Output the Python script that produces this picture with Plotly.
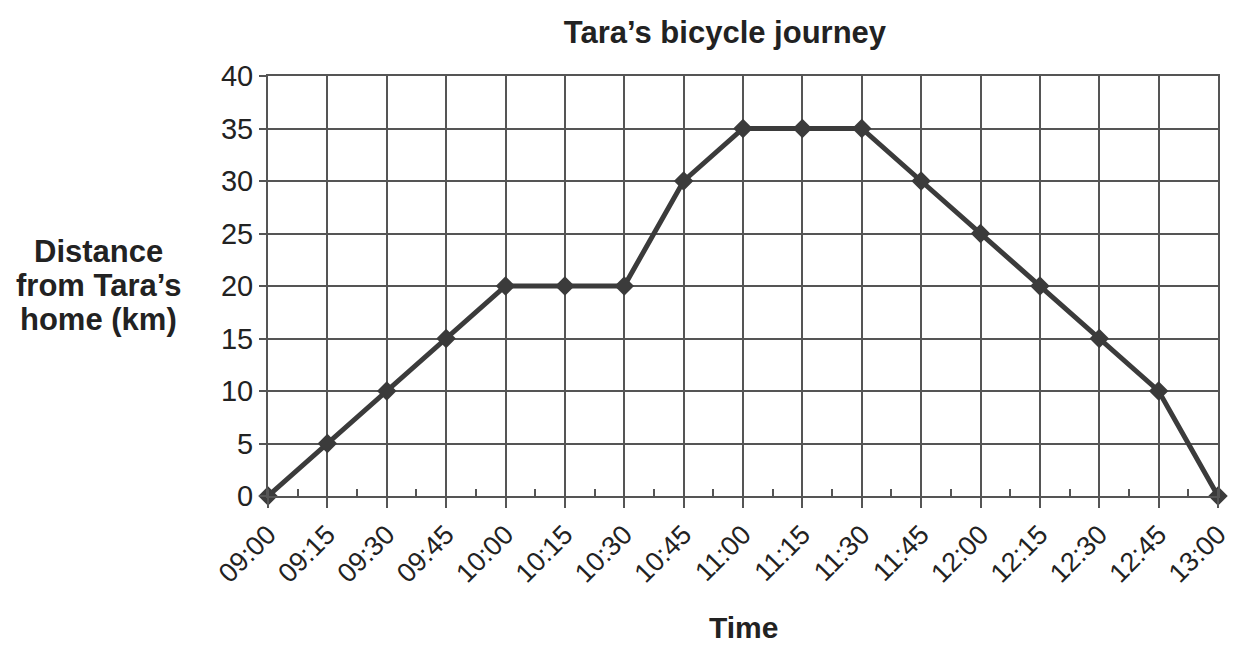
import plotly.graph_objects as go

times = ["09:00", "09:15", "09:30", "09:45", "10:00", "10:15", "10:30", "10:45",
         "11:00", "11:15", "11:30", "11:45", "12:00", "12:15", "12:30", "12:45", "13:00"]
distance_km = [0, 5, 10, 15, 20, 20, 20, 30, 35, 35, 35, 30, 25, 20, 15, 10, 0]
y_ticks = [0, 5, 10, 15, 20, 25, 30, 35, 40]
y_title_lines = ["Distance", "from Tara’s", "home (km)"]

x_idx = list(range(len(times)))
line_col = "#3b3b3b"
grid_col = "#555555"
font_fam = "Liberation Sans, Arial, sans-serif"

fig = go.Figure()
fig.add_trace(go.Scatter(
    x=x_idx, y=distance_km, mode="lines+markers",
    line=dict(color=line_col, width=5),
    marker=dict(symbol="diamond", size=15, color=line_col),
    showlegend=False, cliponaxis=False,
))

annots = []
for i, txt in enumerate(y_title_lines):
    page_y = 252 + i * 33.5
    annots.append(dict(
        text=f"<b>{txt}</b>", xref="paper", yref="paper",
        x=(98 - 268) / 950, y=(496 - page_y) / 420,
        xanchor="center", yanchor="middle", showarrow=False,
        font=dict(size=31, color="#222222")))
annots.append(dict(
    text="<b>Time</b>", xref="paper", yref="paper", x=0.5, y=-0.314,
    xanchor="center", yanchor="middle", showarrow=False,
    font=dict(size=30, color="#222222")))

fig.update_layout(
    width=1238, height=646,
    margin=dict(l=268, r=20, t=76, b=150, autoexpand=False),
    paper_bgcolor="white", plot_bgcolor="white",
    font=dict(family=font_fam, color="#222222"),
    title=dict(text="<b>Tara’s bicycle journey</b>", x=0.5856, xanchor="center",
               y=0.9505, yanchor="middle", font=dict(size=31, color="#222222")),
    xaxis=dict(
        range=[0, len(times) - 1], tickvals=x_idx, ticktext=times,
        tickangle=-45, tickfont=dict(size=27), ticklabeloverflow="allow",
        automargin=False,
        showgrid=True, gridcolor=grid_col, gridwidth=2,
        ticks="outside", ticklen=10, tickcolor=grid_col, tickwidth=2,
        showline=True, linecolor=grid_col, linewidth=2, mirror=True,
        zeroline=False,
        minor=dict(dtick=0.5, tick0=0, ticks="inside", ticklen=7,
                   tickcolor=grid_col, tickwidth=1.5, showgrid=False),
    ),
    yaxis=dict(
        range=[0, 40], tickvals=y_ticks, tickfont=dict(size=29),
        automargin=False,
        showgrid=True, gridcolor=grid_col, gridwidth=2,
        ticks="outside", ticklen=7, tickcolor=grid_col, tickwidth=2,
        showline=True, linecolor=grid_col, linewidth=2, mirror=True,
        zeroline=False,
    ),
    annotations=annots,
)

post = ("document.body.style.margin='0';"
        "document.body.style.overflow='hidden';"
        "document.documentElement.style.overflow='hidden';")
fig.write_html("out.html", post_script=post, config={"displayModeBar": False})
